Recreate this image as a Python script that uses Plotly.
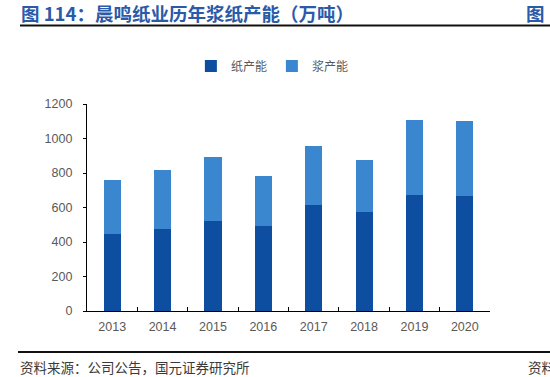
import plotly.graph_objects as go

years = ["2013", "2014", "2015", "2016", "2017", "2018", "2019", "2020"]
paper_cap = [445, 476, 522, 491, 615, 573, 675, 666]
pulp_cap = [313, 339, 370, 293, 341, 305, 430, 437]

title_text = "图 114：晨鸣纸业历年浆纸产能（万吨）"
source_text = "资料来源：公司公告，国元证券研究所"

W, H = 550, 377
L, R, T, B = 87, 60, 104, 66
pw, ph = W - L - R, H - T - B

def px_x(x):
    return (x - L) / pw

def px_y(y):
    return (H - B - y) / ph

fig = go.Figure()
fig.add_trace(go.Bar(x=years, y=paper_cap, name="纸产能", marker=dict(color="#0d4ea0", line=dict(width=0))))
fig.add_trace(go.Bar(x=years, y=pulp_cap, name="浆产能", marker=dict(color="#3a87d0", line=dict(width=0))))

cjk = "Noto Sans CJK SC"
fig.update_layout(
    barmode="stack",
    bargap=0.66,
    width=W, height=H,
    margin=dict(l=L, r=R, t=T, b=B, pad=0),
    plot_bgcolor="white", paper_bgcolor="white",
    font=dict(family="Liberation Sans, " + cjk, color="#595959", size=12),
    showlegend=True,
    legend=dict(orientation="h", x=0.46, xanchor="center", y=px_y(66), yanchor="middle",
                font=dict(family=cjk, size=12, color="#595959"), itemwidth=30,
                traceorder="normal", bgcolor="rgba(0,0,0,0)"),
    xaxis=dict(showline=True, linecolor="#000000", linewidth=1.2, ticks="inside", ticklen=4,
               tickcolor="#000000", tickson="boundaries", showgrid=False, ticklabelstandoff=4,
               tickfont=dict(size=12.5, color="#595959")),
    yaxis=dict(range=[0, 1200], dtick=200, showline=True, linecolor="#000000", linewidth=1.2,
               ticks="outside", ticklen=3, tickcolor="#000000", showgrid=False, zeroline=False,
               ticklabelstandoff=8, tickfont=dict(size=12.5, color="#595959")),
)

fig.add_annotation(xref="paper", yref="paper", x=px_x(19), y=px_y(13), xanchor="left", yanchor="middle",
                   text="<b>" + title_text + "</b>", showarrow=False,
                   font=dict(family=cjk, size=18.5, color="#2a5aa8"))
fig.add_annotation(xref="paper", yref="paper", x=px_x(524), y=px_y(13), xanchor="left", yanchor="middle",
                   text="<b>图</b>", showarrow=False, font=dict(family=cjk, size=18.5, color="#2a5aa8"))
fig.add_annotation(xref="paper", yref="paper", x=px_x(18), y=px_y(367), xanchor="left", yanchor="middle",
                   text=source_text, showarrow=False, font=dict(family=cjk, size=13.5, color="#3a3a3a"))
fig.add_annotation(xref="paper", yref="paper", x=px_x(526), y=px_y(367), xanchor="left", yanchor="middle",
                   text="资料", showarrow=False, font=dict(family=cjk, size=13.5, color="#3a3a3a"))

fig.add_shape(type="line", xref="paper", yref="paper", x0=px_x(20), x1=px_x(552), y0=px_y(25.5), y1=px_y(25.5),
              line=dict(color="#111111", width=2))
fig.add_shape(type="line", xref="paper", yref="paper", x0=px_x(18), x1=px_x(552), y0=px_y(352), y1=px_y(352),
              line=dict(color="#111111", width=2))

fig.write_html("out.html", config={"displayModeBar": False},
               post_script="document.body.style.margin='0';document.body.style.overflow='hidden';")
